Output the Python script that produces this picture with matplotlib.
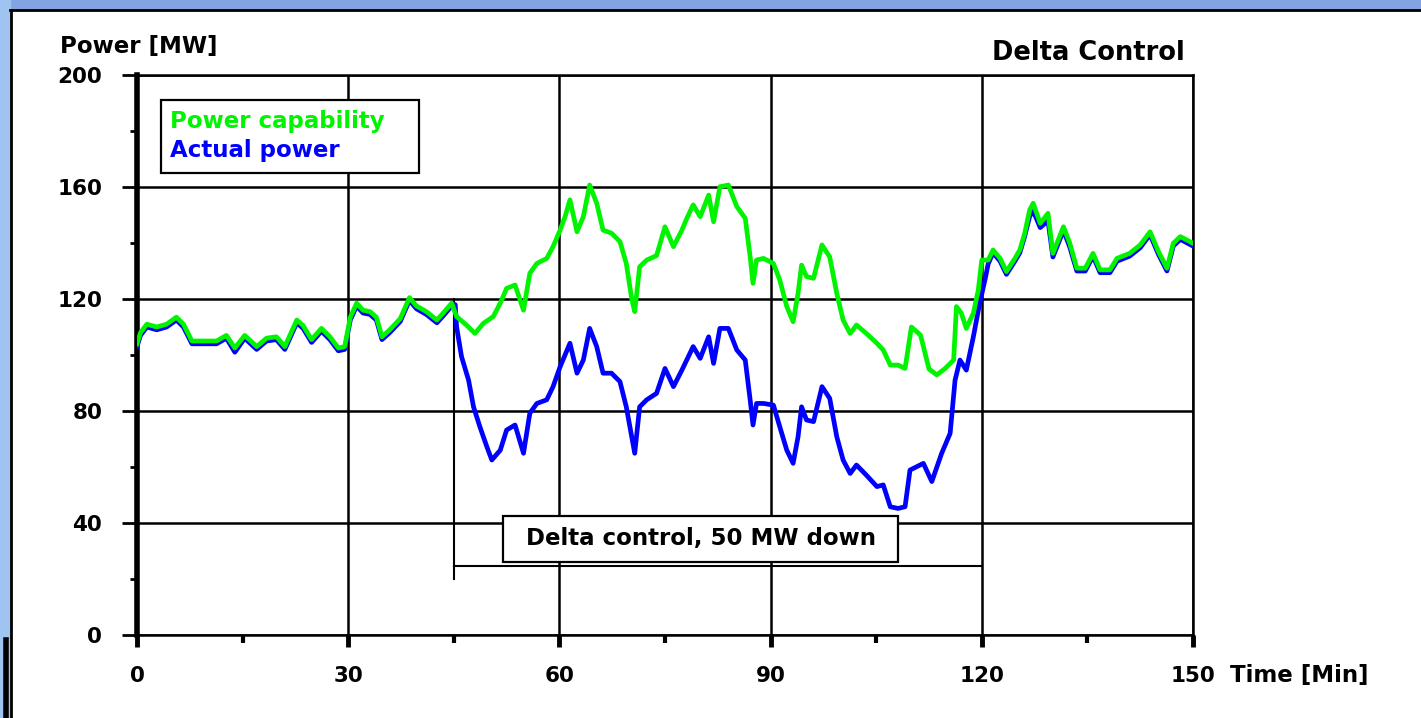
import matplotlib

matplotlib.use("Agg")
import matplotlib.pyplot as plt
from matplotlib.patches import Rectangle
from matplotlib.lines import Line2D
from matplotlib.ticker import MultipleLocator

plt.rcParams["font.family"] = ["DejaVu Sans"]
plt.rcParams["font.weight"] = "bold"

# available power (capability) of the wind farm, minutes / MW
cap_t = [0, 0.5, 1.4, 2.8, 4.2, 5.6, 6.6, 7.8, 9.4, 11.3, 12.7, 13.9, 15.3, 17, 18.4,
         19.8, 21, 22.7, 23.6, 24.8, 26.2, 27.4, 28.6, 29.5, 30.3, 31.2, 32.1, 33.1,
         34, 34.8, 35.9, 37.4, 38.7, 39.7, 41.1, 42.6, 43.5, 44.7, 45.4, 46.8, 48,
         49.2, 50.6, 51.6, 52.5, 53.7, 54.9, 55.8, 56.8, 58.2, 59.1, 60.1, 60.8, 61.5,
         62.5, 63.4, 64.3, 65.3, 66.2, 67.4, 68.6, 69.5, 70.3, 70.7, 71.4, 72.4, 73.8,
         75, 76.2, 77.4, 78.1, 79, 80, 81.2, 81.9, 82.8, 84, 85.2, 86.4, 87.1, 87.5,
         88, 89, 90.4, 91.3, 92.3, 93.2, 93.9, 94.4, 95.1, 96.1, 97.3, 98.4, 99.4,
         100.3, 101.3, 102.2, 103.6, 105.1, 106, 107, 108.1, 109.1, 110, 111.3, 112.5,
         113.6, 114.8, 116, 116.4, 117.1, 117.8, 118.8, 119.5, 120, 120.9, 121.6,
         122.6, 123.5, 124.7, 125.4, 126.1, 126.8, 127.3, 128.3, 129.4, 130.1, 131.6,
         132.5, 133.5, 134.7, 135.8, 136.8, 138.2, 139.2, 141, 142.5, 143.9, 145.1,
         146.3, 147.2, 148.2, 150]
cap_mw = [104, 108, 111, 110, 111, 113.5, 111, 105, 105, 105, 107, 102.5, 107, 103, 106,
          106.5, 103, 112.5, 110.5, 105.5, 109.5, 106.5, 102.5, 103, 113.5, 118.5, 116,
          115.5, 113.5, 106.5, 109, 113, 120.5, 117.5, 115.5, 112.5, 115, 118.5, 113.7,
          110.7, 107.7, 111.3, 113.7, 118.5, 123.8, 125, 116, 129.2, 132.7, 134.5, 138.7,
          144.6, 149.4, 155.4, 144, 149.4, 160.7, 154.2, 144.6, 143.5, 140.5, 132.7,
          119.6, 115.5, 131.5, 133.9, 135.5, 145.8, 138.7, 144.6, 148.8, 153.6, 149.4,
          157.1, 147.6, 160.1, 160.7, 153, 148.8, 135, 125.6, 133.9, 134.5, 132.7, 126.8,
          117.3, 111.9, 122, 132.1, 128, 127.4, 139.3, 135, 122, 112.5, 107.7, 110.7,
          107.7, 104.2, 101.8, 96.4, 96.4, 95.2, 110, 107.1, 95, 92.9, 95.2, 98.2, 117.3,
          114.9, 109.5, 114.9, 123.2, 133.9, 133.9, 137.5, 134.5, 129.8, 134.5, 137.5,
          143.5, 151.8, 154.2, 147, 150.6, 136.3, 145.8, 139.9, 131, 131, 136.3, 130.4,
          130.4, 134.5, 136.3, 139.3, 144, 136.9, 131, 139.9, 142.3, 139.9]

# delivered power, 50 MW below capability between 45 and 120 min
act_t = [0, 0.5, 1.4, 2.8, 4.2, 5.6, 6.6, 7.8, 9.4, 11.3, 12.7, 13.9, 15.3, 17, 18.4,
         19.8, 21, 22.7, 23.6, 24.8, 26.2, 27.4, 28.6, 29.5, 30.3, 31.2, 32.1, 33.1,
         34, 34.8, 35.9, 37.4, 38.7, 39.7, 41.1, 42.6, 43.5, 44.7, 45.2, 45.4, 46.1,
         47.1, 47.8, 48.7, 49.7, 50.4, 51.6, 52.5, 53.7, 54.9, 55.8, 56.8, 58.2, 59.1,
         60.1, 61.5, 62.5, 63.4, 64.3, 65.3, 66.2, 67.4, 68.6, 69.5, 70.7, 71.4, 72.4,
         73.8, 75, 76.2, 77.4, 79, 80, 81.2, 81.9, 82.8, 84, 85.2, 86.4, 87.1, 87.5, 88,
         89, 90.4, 91.3, 92.3, 93.2, 93.9, 94.4, 95.1, 96.1, 97.3, 98.4, 99.4, 100.3,
         101.3, 102.2, 103.6, 105.1, 106, 107, 108.1, 109.1, 109.8, 111.7, 112.9, 114.3,
         115.5, 116.2, 116.9, 117.8, 118.8, 119.7, 120.5, 120.9, 121.6, 122.6, 123.5,
         124.7, 125.4, 126.1, 126.8, 127.3, 128.3, 129.4, 130.1, 131.6, 132.5, 133.5,
         134.7, 135.8, 136.8, 138.2, 139.2, 141, 142.5, 143.9, 145.1, 146.3, 147.2,
         148.2, 150]
act_mw = [103, 107, 110, 109, 110, 112.5, 110, 104, 104, 104, 106, 101, 106, 102, 105,
          105.5, 102, 111.5, 109.5, 104.5, 108.5, 105.5, 101.5, 102, 112.5, 117.5, 115,
          114.5, 112.5, 105.5, 108, 112, 119.5, 116.5, 114.5, 111.5, 114, 117.5, 118,
          110, 99.4, 91, 81.5, 74.4, 67.2, 62.5, 66, 73.2, 75, 64.9, 79.2, 82.7, 84, 88.7,
          95.8, 104.2, 93.5, 98.2, 109.5, 103, 93.5, 93.5, 90.5, 81.5, 64.9, 81.5, 84,
          86.3, 95.2, 88.7, 94.6, 103, 98.8, 106.5, 97, 109.5, 109.5, 101.8, 98.2, 83.9,
          75, 82.7, 82.7, 82.1, 74.4, 66, 61.3, 70.8, 81.5, 76.8, 76.2, 88.7, 84.5, 70.8,
          62.5, 57.7, 60.7, 57.1, 53, 53.6, 45.8, 45.2, 45.8, 58.9, 61.3, 54.8, 64.9, 72,
          91, 98.2, 94.6, 106.5, 118.5, 127.4, 132.5, 136.5, 133.5, 128.8, 133.5, 136.5,
          142.5, 149.5, 151.5, 145.5, 148, 135, 144.5, 138.5, 130, 130, 135.3, 129.4,
          129.4, 133.5, 135.3, 138.3, 143, 135.9, 130, 138.9, 141.3, 138.9]

fig = plt.figure(figsize=(14.21, 7.18), dpi=100)

# slide frame around the chart
fig.patches.append(Rectangle((0, 1 - 9 / 718), 1, 9 / 718, transform=fig.transFigure,
                             color="#82a4e2", zorder=0))
fig.patches.append(Rectangle((0, 0), 10 / 1421, 1, transform=fig.transFigure,
                             color="#9fc4f1", zorder=0))
fig.lines.append(Line2D([10 / 1421, 1], [1 - 10 / 718, 1 - 10 / 718],
                        transform=fig.transFigure, color="black", lw=2))
fig.lines.append(Line2D([11 / 1421, 11 / 1421], [0, 1 - 10 / 718],
                        transform=fig.transFigure, color="black", lw=2))
fig.lines.append(Line2D([6 / 1421, 6 / 1421], [0, 78 / 718],
                        transform=fig.transFigure, color="black", lw=4))

ax = fig.add_axes([137 / 1421, 1 - 635 / 718, 1056 / 1421, 560 / 718])
ax.plot(act_t, act_mw, color="#0000ff", lw=3.4, zorder=3)
ax.plot(cap_t, cap_mw, color="#00f400", lw=3.4, zorder=4)

ax.set_xlim(0, 150)
ax.set_ylim(0, 200)
ax.xaxis.set_major_locator(MultipleLocator(30))
ax.xaxis.set_minor_locator(MultipleLocator(15))
ax.yaxis.set_major_locator(MultipleLocator(40))
ax.yaxis.set_minor_locator(MultipleLocator(20))
ax.grid(True, which="major", color="black", lw=1.8)
ax.set_axisbelow(True)

for s in ["top", "right", "bottom"]:
    ax.spines[s].set_linewidth(1.8)
ax.spines["left"].set_linewidth(4)

ax.tick_params(axis="y", which="major", length=11, width=2, pad=14, labelsize=15.5)
ax.tick_params(axis="y", which="minor", length=5, width=2)
ax.tick_params(axis="x", which="major", length=8.5, width=3.5, pad=14, labelsize=15.5)
ax.tick_params(axis="x", which="minor", length=6, width=3)

ax.text(-0.073, 1.05, "Power [MW]", transform=ax.transAxes, ha="left", va="center",
        fontsize=16.5)
ax.text(1.035, -0.073, "Time [Min]", transform=ax.transAxes, ha="left", va="center",
        fontsize=16.5)
ax.text(0.992, 1.04, "Delta Control", transform=ax.transAxes, ha="right", va="center",
        fontsize=18.5)

# legend box with coloured labels
ax.add_patch(Rectangle((0.0227, 0.825), 0.244, 0.13, transform=ax.transAxes,
                       facecolor="white", edgecolor="black", lw=1.6, zorder=5))
ax.text(0.031, 0.917, "Power capability", transform=ax.transAxes, color="#00f400",
        va="center", fontsize=16.5, zorder=6)
ax.text(0.031, 0.865, "Actual power", transform=ax.transAxes, color="#0000ff",
        va="center", fontsize=16.5, zorder=6)

# bracket marking the delta control period
ax.plot([45, 45], [120, 20], color="black", lw=1.5, zorder=2)
ax.plot([45, 120], [24.6, 24.6], color="black", lw=1.5, zorder=2)
ax.add_patch(Rectangle((52.0, 26.1), 56.1, 16.4, facecolor="white", edgecolor="black",
                       lw=1.6, zorder=5))
ax.text(80.05, 34.3, "Delta control, 50 MW down", ha="center", va="center",
        fontsize=16.5, zorder=6)

plt.savefig("out.png", dpi=100)
plt.close()
